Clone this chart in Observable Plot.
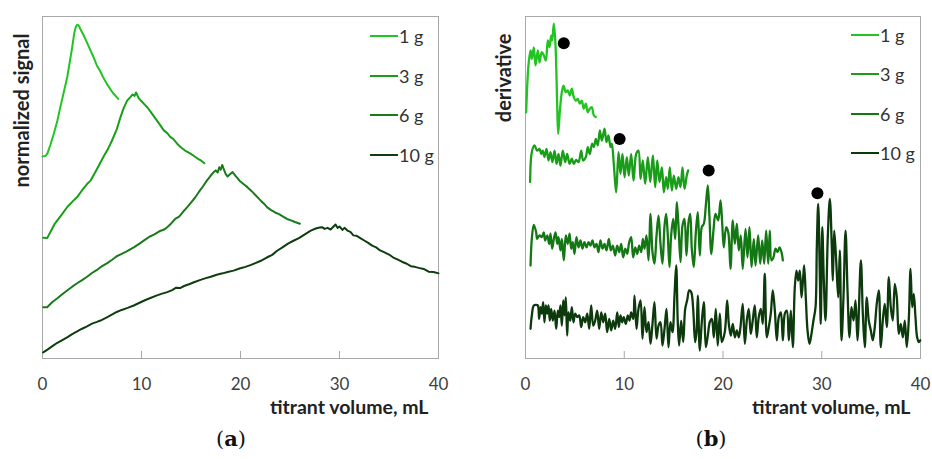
<!DOCTYPE html>
<html><head><meta charset="utf-8">
<script src="https://cdn.jsdelivr.net/npm/d3@7"></script>
<script src="https://cdn.jsdelivr.net/npm/@observablehq/plot@0.6"></script>
<style>
body{margin:0;background:#fff;}
#wrap{position:relative;width:932px;height:459px;overflow:hidden;font-family:Lato,sans-serif;}
.panel{position:absolute;top:0;}
.leg{position:absolute;font-family:Lato,sans-serif;font-size:18px;color:#333;}
.leg .row{position:absolute;left:0;display:flex;align-items:center;white-space:nowrap;}
.leg .sw{display:inline-block;width:28px;height:0;border-top:2px solid;margin-right:1px;}
.cap{position:absolute;top:426px;transform:translateX(-50%);font-family:"DejaVu Serif",serif;font-size:21px;color:#111;}
</style></head>
<body><div id="wrap"></div>
<script>
// ---------- data ----------
const series = ["1 g", "3 g", "6 g", "10 g"];
const xTicks = [0, 10, 20, 30, 40];
const colorsA = ["#22c422", "#17a017", "#1b7a1b", "#0e3d0e"];
const colorsB = ["#22c422", "#1a9e1a", "#137713", "#0c3a0c"];

// (a) normalized signal, [titrant mL, signal]
const a1g = [[0,59.1],[0.3,59.2],[0.5,60.0],[0.8,62.5],[1.15,65.8],[1.5,69.5],[1.8,73.5],[2.2,78.5],[2.5,82.3],[2.8,87.5],[3.0,91.0],[3.2,95.0],[3.35,96.9],[3.5,97.6],[3.65,97.4],[3.85,96.2],[4.1,94.8],[4.35,93.3],[4.6,91.7],[4.85,90.1],[5.2,87.8],[5.5,85.6],[5.8,84.2],[6.1,82.4],[6.5,80.3],[6.8,79.0],[7.1,77.7],[7.4,76.7],[7.65,75.9]];
const a3g = [[0.07,35.3],[0.47,35.2],[0.8,37.0],[1.2,39.2],[1.5,40.4],[2.0,42.3],[2.5,44.3],[3.0,45.8],[3.5,47.2],[4.0,49.2],[4.5,51.0],[4.85,52.0],[5.3,54.3],[5.8,57.0],[6.2,59.2],[6.53,60.8],[7.0,63.6],[7.5,67.0],[7.88,70.6],[8.2,73.2],[8.55,75.4],[8.9,76.5],[9.1,77.2],[9.3,76.8],[9.45,77.8],[9.7,76.2],[10.0,75.2],[10.3,74.3],[10.6,73.4],[11.0,71.8],[11.4,70.2],[11.8,68.6],[12.25,66.7],[12.6,65.9],[12.9,64.8],[13.2,64.2],[13.6,62.8],[14.0,61.7],[14.4,60.8],[14.95,59.9],[15.3,59.2],[15.7,58.4],[16.0,57.9],[16.36,57.1]];
const a6g = [[0.07,15.0],[0.47,15.0],[1.0,16.5],[1.5,17.6],[2.0,18.8],[2.49,19.9],[3.0,21.0],[3.5,22.0],[4.0,22.9],[4.5,23.9],[5.0,25.0],[5.5,25.9],[5.86,26.7],[6.5,27.8],[7.0,28.8],[7.5,29.9],[8.0,30.6],[8.5,31.3],[9.22,32.5],[9.8,33.6],[10.3,34.6],[10.8,35.6],[11.3,36.3],[11.8,37.2],[12.3,37.7],[12.6,38.4],[13.0,39.5],[13.4,40.8],[13.8,41.5],[14.2,42.9],[14.6,44.2],[15.0,45.6],[15.4,47.0],[15.8,48.7],[16.2,50.3],[16.6,52.0],[17.0,53.5],[17.3,54.5],[17.5,55.0],[17.7,54.4],[17.85,55.9],[18.0,55.2],[18.15,56.6],[18.35,55.1],[18.5,54.0],[18.7,53.2],[18.9,53.8],[19.2,54.5],[19.5,53.4],[19.9,52.0],[20.3,51.0],[20.7,50.1],[21.1,49.0],[21.5,47.8],[22.0,46.3],[22.4,45.2],[22.7,44.2],[23.1,43.4],[23.5,42.7],[23.9,42.2],[24.3,41.5],[24.7,40.8],[25.1,40.4],[25.5,39.9],[26.0,39.4]];
const a10g = [[0.07,1.8],[0.5,2.6],[1.0,3.6],[1.5,4.6],[2.0,5.4],[2.49,6.2],[3.0,7.1],[3.5,7.9],[4.0,8.7],[4.5,9.4],[5.0,10.2],[5.5,10.7],[5.86,11.1],[6.5,12.0],[7.0,12.8],[7.5,13.6],[8.0,14.2],[8.6,14.8],[9.22,15.5],[9.8,16.3],[10.4,17.1],[10.9,17.7],[11.5,18.4],[12.0,18.9],[12.6,19.4],[13.1,20.0],[13.5,20.7],[13.9,20.6],[14.3,21.2],[14.8,21.7],[15.3,22.3],[15.96,23.0],[16.5,23.5],[17.0,23.9],[17.6,24.5],[18.2,24.9],[18.7,25.3],[19.3,25.7],[19.9,26.3],[20.5,26.8],[21.0,27.3],[21.5,27.9],[22.0,28.5],[22.7,29.6],[23.2,30.3],[23.7,31.5],[24.2,32.4],[24.8,33.6],[25.4,34.5],[25.9,35.2],[26.5,36.3],[27.1,37.4],[27.6,38.0],[28.0,38.3],[28.25,38.4],[28.5,37.9],[28.8,38.2],[29.1,37.7],[29.4,38.6],[29.6,39.2],[29.8,38.2],[30.0,38.6],[30.3,37.6],[30.5,38.2],[30.8,37.4],[31.1,37.0],[31.4,36.0],[31.7,35.9],[32.1,35.2],[32.5,34.5],[32.9,33.8],[33.3,33.0],[33.7,32.5],[34.1,31.6],[34.5,31.1],[35.0,30.4],[35.5,29.4],[35.9,28.9],[36.3,28.3],[36.8,27.7],[37.2,27.0],[37.6,26.8],[38.0,26.5],[38.5,26.2],[39.0,25.4],[39.5,25.3],[40.0,24.9]];

// (b) derivative, [titrant mL, derivative]
const b1g = [[0.07,72.0],[0.30,85.7],[0.51,90.1],[0.64,87.6],[0.84,91.0],[1.01,85.7],[1.25,90.1],[1.42,86.6],[1.65,89.6],[1.86,88.6],[2.06,87.1],[2.26,93.0],[2.43,91.0],[2.6,94.4],[2.7,93.0],[2.87,97.9],[3.04,91.5],[3.21,74.0],[3.31,65.7],[3.47,72.0],[3.68,77.9],[3.85,79.8],[4.08,77.9],[4.28,78.4],[4.49,76.9],[4.69,78.9],[4.89,76.4],[5.1,75.4],[5.3,75.9],[5.5,74.5],[5.7,75.4],[5.9,73.0],[6.11,74.5],[6.31,72.0],[6.51,73.0],[6.71,73.5],[6.92,71.1],[7.12,70.6]];
const b3g = [[0.47,51.6],[0.64,60.3],[0.91,62.3],[1.18,60.8],[1.42,61.3],[1.59,59.8],[1.75,60.8],[1.92,58.9],[2.13,61.3],[2.33,57.9],[2.53,60.3],[2.73,57.4],[2.94,60.8],[3.14,56.9],[3.34,59.8],[3.54,56.4],[3.78,60.8],[4.02,57.4],[4.22,59.8],[4.46,56.9],[4.69,58.4],[4.89,56.9],[5.13,58.1],[5.37,57.4],[5.64,60.8],[5.84,57.9],[6.11,58.9],[6.31,61.8],[6.51,59.8],[6.75,62.8],[6.92,61.8],[7.12,64.2],[7.32,62.3],[7.53,66.7],[7.73,63.7],[8.0,67.2],[8.2,63.3],[8.4,65.2],[8.61,61.8],[8.74,62.8],[8.94,56.9],[9.18,48.6],[9.42,60.3],[9.62,54.0],[9.82,59.8],[10.03,53.0],[10.26,58.9],[10.46,53.5],[10.7,59.8],[10.94,52.0],[11.21,59.8],[11.44,60.8],[11.65,52.5],[11.88,57.9],[12.12,51.1],[12.39,58.9],[12.63,51.6],[12.9,59.4],[13.13,50.1],[13.34,57.9],[13.57,51.6],[13.81,55.9],[14.01,48.6],[14.24,53.0],[14.41,49.6],[14.61,55.9],[14.82,49.1],[15.02,53.5],[15.26,49.6],[15.49,53.0],[15.7,50.1],[15.9,55.9],[16.1,49.6],[16.33,53.5],[16.47,55.0]];
const b6g = [[0.51,27.2],[0.64,35.0],[0.84,39.1],[1.08,36.9],[1.18,35.0],[1.42,36.0],[1.65,35.5],[1.85,36.9],[1.99,34.5],[2.2,36.0],[2.4,33.5],[2.53,36.5],[2.7,32.1],[2.87,35.0],[3.04,36.9],[3.21,33.5],[3.34,35.5],[3.54,31.6],[3.68,35.0],[3.88,28.7],[4.08,36.0],[4.28,33.5],[4.46,36.5],[4.63,32.1],[4.79,34.0],[4.96,30.6],[5.16,35.5],[5.37,32.5],[5.57,34.5],[5.77,32.1],[5.97,34.0],[6.18,32.5],[6.38,34.0],[6.58,33.0],[6.78,34.5],[6.99,32.5],[7.19,33.5],[7.39,31.1],[7.59,34.5],[7.8,32.1],[8.0,33.5],[8.2,31.6],[8.44,35.0],[8.64,31.6],[8.84,33.0],[9.08,30.1],[9.28,33.0],[9.49,31.1],[9.69,33.5],[9.89,29.6],[10.1,32.1],[10.3,30.6],[10.5,34.0],[10.7,35.5],[10.9,29.6],[11.11,32.5],[11.31,30.6],[11.51,33.0],[11.72,31.1],[11.88,35.0],[12.05,32.1],[12.25,36.0],[12.46,28.7],[12.66,42.3],[12.86,31.1],[13.06,27.7],[13.27,36.0],[13.47,41.8],[13.67,33.5],[13.87,27.7],[14.08,38.9],[14.24,42.3],[14.41,36.0],[14.58,26.7],[14.75,36.0],[14.96,40.8],[15.16,35.0],[15.32,45.7],[15.49,38.9],[15.7,28.2],[15.9,38.9],[16.1,40.8],[16.3,30.1],[16.51,39.9],[16.68,42.3],[16.84,32.1],[17.04,26.7],[17.25,36.9],[17.45,42.8],[17.65,30.1],[17.85,38.4],[18.06,39.4],[18.26,44.7],[18.46,50.6],[18.62,42.0],[18.82,30.5],[19.05,38.0],[19.24,42.3],[19.51,40.4],[19.75,46.2],[19.92,39.4],[20.08,32.5],[20.32,38.4],[20.53,36.9],[20.76,26.2],[20.99,40.4],[21.2,33.5],[21.4,39.4],[21.6,31.6],[21.8,36.0],[22.0,26.2],[22.28,37.9],[22.48,29.6],[22.68,38.4],[22.89,26.7],[23.12,35.0],[23.29,27.2],[23.56,36.0],[23.77,27.7],[23.97,34.5],[24.17,27.7],[24.37,37.4],[24.58,27.7],[24.74,37.4],[24.91,28.7],[25.11,29.6],[25.32,32.1],[25.52,31.1],[25.72,32.5],[25.92,31.1],[26.06,28.7]];
const b10g = [[0.51,8.7],[0.64,12.6],[0.84,15.5],[1.08,15.7],[1.25,15.5],[1.38,11.6],[1.52,15.0],[1.65,13.1],[1.79,16.5],[1.92,10.6],[2.06,15.5],[2.2,13.1],[2.33,15.5],[2.46,11.1],[2.6,14.5],[2.77,11.1],[2.94,14.0],[3.11,8.7],[3.27,14.0],[3.41,12.1],[3.54,15.5],[3.68,9.6],[3.82,17.0],[3.95,12.6],[4.08,17.9],[4.22,6.7],[4.35,13.5],[4.53,11.1],[4.69,15.0],[4.86,10.6],[5.03,13.1],[5.24,12.1],[5.44,12.6],[5.64,9.2],[5.84,12.1],[6.05,10.6],[6.25,13.1],[6.45,8.7],[6.65,15.5],[6.86,9.6],[7.06,11.1],[7.26,14.0],[7.46,8.7],[7.67,13.5],[7.87,10.6],[8.07,13.1],[8.27,7.7],[8.48,11.6],[8.68,8.2],[8.88,11.1],[9.08,8.7],[9.29,13.5],[9.45,9.2],[9.62,12.6],[9.79,10.6],[9.95,12.1],[10.16,10.1],[10.36,12.6],[10.53,11.1],[10.7,13.5],[10.91,11.6],[11.04,18.4],[11.24,8.7],[11.44,14.5],[11.65,17.0],[11.85,5.8],[12.05,15.0],[12.25,7.7],[12.46,10.6],[12.66,4.3],[12.86,10.1],[13.06,16.5],[13.27,5.8],[13.47,9.6],[13.67,10.6],[13.87,3.8],[14.08,8.7],[14.28,14.5],[14.48,3.3],[14.68,10.6],[14.89,7.7],[15.09,18.4],[15.26,27.2],[15.42,10.6],[15.56,3.8],[15.76,11.1],[15.97,4.8],[16.17,14.5],[16.37,17.0],[16.58,19.9],[16.78,19.4],[16.98,14.5],[17.18,4.8],[17.32,7.7],[17.45,18.4],[17.65,2.3],[17.85,10.6],[18.06,16.5],[18.26,3.3],[18.46,6.7],[18.66,10.6],[18.87,11.6],[19.07,6.2],[19.27,14.5],[19.47,3.8],[19.68,13.1],[19.88,4.8],[20.18,7.7],[20.42,17.0],[20.59,10.1],[20.79,6.7],[20.99,10.1],[21.2,6.2],[21.4,8.2],[21.6,6.2],[21.77,9.2],[22.0,16.0],[22.21,4.3],[22.41,11.1],[22.61,14.5],[22.81,7.2],[23.01,11.1],[23.22,15.5],[23.42,6.2],[23.62,12.1],[23.83,14.5],[24.03,10.1],[24.23,24.8],[24.44,6.2],[24.64,9.2],[24.84,13.1],[25.04,19.9],[25.25,14.0],[25.45,5.3],[25.65,12.1],[25.86,13.5],[26.06,5.3],[26.26,13.1],[26.46,14.0],[26.67,5.3],[26.87,14.0],[27.07,3.3],[27.27,20.8],[27.44,25.7],[27.61,22.8],[27.78,25.7],[27.95,17.9],[28.12,23.8],[28.22,27.2],[28.39,17.5],[28.56,8.2],[28.76,4.3],[28.96,7.2],[29.16,11.1],[29.37,15.0],[29.5,32.5],[29.64,45.2],[29.8,24.8],[29.9,10.1],[30.05,38.4],[30.21,22.8],[30.38,11.1],[30.61,35.5],[30.82,46.7],[31.02,32.5],[31.12,22.8],[31.26,37.4],[31.46,28.7],[31.67,17.9],[31.83,31.6],[32.0,5.3],[32.2,17.9],[32.41,37.4],[32.61,19.9],[32.81,6.2],[33.01,15.0],[33.22,11.1],[33.42,17.0],[33.62,5.3],[33.96,28.7],[34.16,13.1],[34.36,3.3],[34.56,17.9],[34.76,11.1],[34.97,8.2],[35.17,5.3],[35.37,9.2],[35.57,16.0],[35.78,19.9],[35.98,3.3],[36.18,11.1],[36.38,16.0],[36.59,9.2],[36.79,23.8],[36.99,15.0],[37.19,11.1],[37.4,21.8],[37.6,17.9],[37.8,7.2],[38.0,10.1],[38.21,6.2],[38.41,11.1],[38.61,3.3],[38.81,11.1],[38.99,26.2],[39.16,15.0],[39.32,18.9],[39.49,12.1],[39.66,6.2],[39.83,4.8],[39.97,5.3]];

// equivalence points marked on (b)
const peakX = [3.88, 9.53, 18.55, 29.56];
const peakY = [92.2, 64.2, 55.0, 48.3];

const xTitle = "titrant volume, mL";
const yTitleA = "normalized signal";
const yTitleB = "derivative";
const captions = ["a", "b"];

// ---------- build ----------
const wrap = document.getElementById("wrap");
const toRows = (arr, s) => arr.map(([x, y]) => ({x, y, s}));

function panel(dataSets, colors, left, marginLeft, marginRight, yTitle, yTitleDx, curve, sw, extra) {
  const rows = dataSets.flatMap((d, i) => toRows(d, series[i]));
  const chart = Plot.plot({
    width: 466, height: 420,
    marginLeft, marginRight, marginTop: 16, marginBottom: 62,
    x: {domain: [0, 40]},
    y: {domain: [0, 100], axis: null},
    color: {domain: series, range: colors},
    style: {fontFamily: "Lato, sans-serif", fontSize: "17px", color: "#404040", background: "transparent"},
    marks: [
      Plot.frame({stroke: "#a8a8a8"}),
      Plot.ruleX(xTicks, {insetTop: 335, stroke: "#a8a8a8"}),
      Plot.axisX(xTicks, {tickSize: 0, tickPadding: 19, label: null, fontSize: 17}),
      Plot.line(rows, {x: "x", y: "y", z: "s", stroke: "s", strokeWidth: sw, curve}),
      ...extra,
      Plot.text([xTitle], {frameAnchor: "bottom-right", textAnchor: "end", lineAnchor: "bottom", dx: -10, dy: 55, fontWeight: "bold", fontSize: 19.5, fill: "#222"}),
      Plot.text([yTitle], {frameAnchor: "top-left", rotate: -90, textAnchor: "end", lineAnchor: "middle", dx: yTitleDx, dy: 17, fontWeight: "bold", fontSize: 20, fill: "#222"})
    ]
  });
  chart.classList.add("panel");
  chart.style.left = left + "px";
  wrap.appendChild(chart);
}

panel([a1g, a3g, a6g, a10g], colorsA, 0, 42, 28, yTitleA, -20, "linear", 2, []);
panel([b1g, b3g, b6g, b10g], colorsB, 466, 59, 12, yTitleB, -21, "catmull-rom", 2.3, [
  Plot.dot(peakX.map((x, i) => ({x, y: peakY[i]})), {x: "x", y: "y", r: 6, fill: "#000"})
]);

function legend(left, top, gap, colors) {
  const div = document.createElement("div");
  div.className = "leg";
  div.style.left = left + "px";
  div.style.top = top + "px";
  series.forEach((s, i) => {
    const row = document.createElement("div");
    row.className = "row";
    row.style.top = (i * gap) + "px";
    const sw = document.createElement("span");
    sw.className = "sw";
    sw.style.borderTopColor = colors[i];
    row.appendChild(sw);
    row.appendChild(document.createTextNode(s));
    div.appendChild(row);
  });
  wrap.appendChild(div);
}
legend(370, 25, 39.6, colorsA);
legend(851, 24, 39.4, colorsB);

[[231, captions[0]], [711, captions[1]]].forEach(([cx, t]) => {
  const c = document.createElement("div");
  c.className = "cap";
  c.style.left = cx + "px";
  c.innerHTML = "(<b>" + t + "</b>)";
  wrap.appendChild(c);
});
</script></body></html>
